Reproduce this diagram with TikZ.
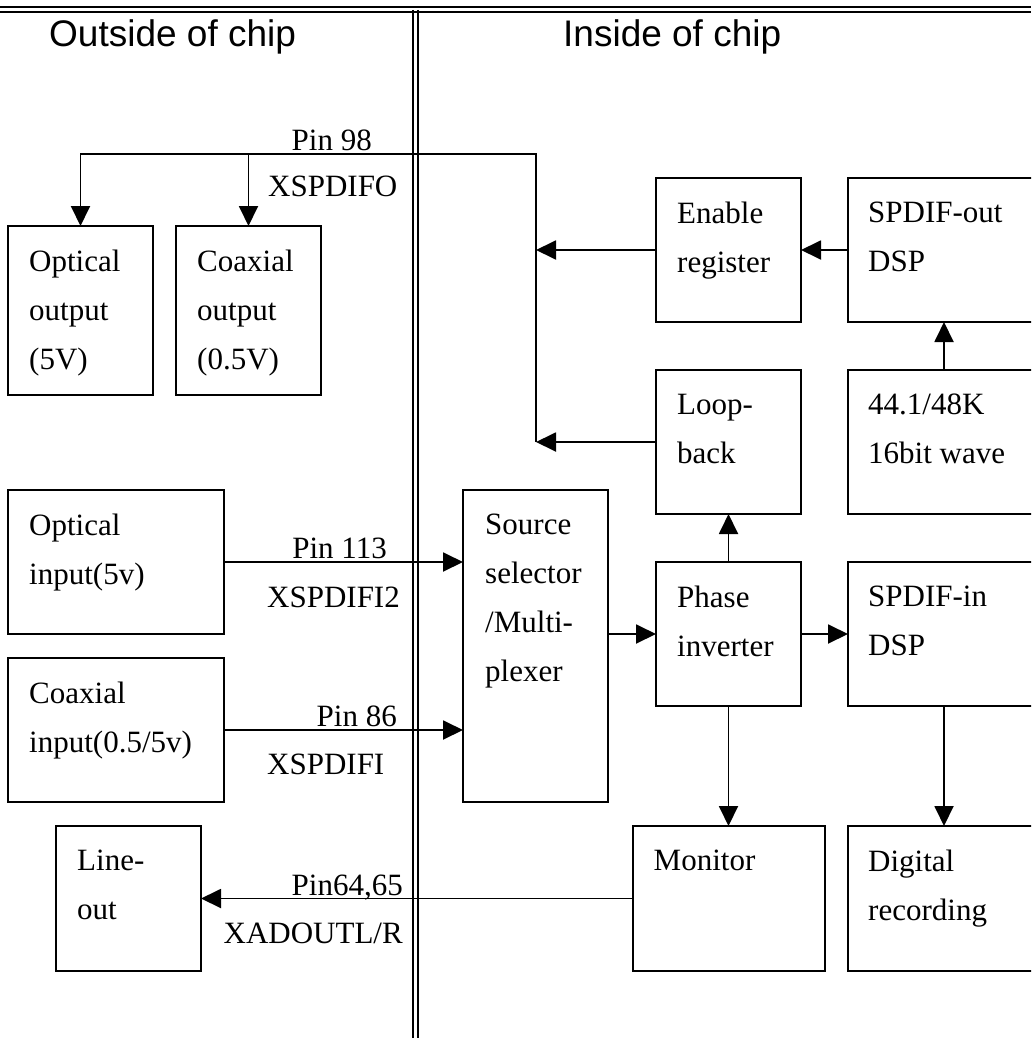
\documentclass[tikz,border=0pt]{standalone}
\usepackage{fontspec}
\setmainfont{Liberation Serif}
\newfontfamily\headfont{Liberation Sans}
\usetikzlibrary{arrows.meta,positioning}

\begin{document}
\begin{tikzpicture}[
    x=1pt, y=1pt,
    node distance=48pt and 47pt,
    >={Triangle[length=20pt,width=19pt]},
    blk/.style={
        rectangle, draw, line width=2pt,
        outer sep=0pt, inner sep=0pt,
        minimum width=145pt, minimum height=144pt
    },
    wide/.style={minimum width=192pt},
    txt/.style={anchor=north west, inner sep=0pt, align=left,
        font=\fontsize{31}{49}\selectfont},
    pin/.style={inner sep=0pt, font=\fontsize{31}{37}\selectfont},
    head/.style={anchor=base west, inner sep=0pt,
        font=\headfont\fontsize{37}{44}\selectfont},
    conn/.style={->, line width=1.9pt},
    rail/.style={line width=2.2pt}
]
    \useasboundingbox (0,0) rectangle (1031,-1038);
    \clip (0,0) rectangle (1031,-1038);

    % Chip boundary
    \draw[rail] (0,-7) -- (1031,-7);
    \draw[rail] (0,-12) -- (1031,-12);
    \draw[rail] (413,-10) -- (413,-1038);
    \draw[rail] (418,-10) -- (418,-1038);

    \node[head] (outside) at (49,-47) {Outside of chip};
    \node[head] (inside) at (563,-47) {Inside of chip};

    % Outside of chip
    \node[blk, minimum height=169pt, anchor=north west] (optout) at (8,-226) {};
    \node[txt] (optout-t) at ([shift={(21pt,-24pt)}]optout.north west) {Optical\\output\\(5V)};

    \node[blk, minimum height=169pt, right=23pt of optout] (coaxout) {};
    \node[txt] (coaxout-t) at ([shift={(21pt,-24pt)}]coaxout.north west) {Coaxial\\output\\(0.5V)};

    \node[blk, minimum width=216pt, anchor=north west] (optin) at (8,-490) {};
    \node[txt] (optin-t) at ([shift={(21pt,-24pt)}]optin.north west) {Optical\\input(5v)};

    \node[blk, minimum width=216pt, below=24pt of optin] (coaxin) {};
    \node[txt] (coaxin-t) at ([shift={(21pt,-24pt)}]coaxin.north west) {Coaxial\\input(0.5/5v)};

    \node[blk, minimum height=145pt, anchor=north west] (lineout) at (56,-826) {};
    \node[txt] (lineout-t) at ([shift={(21pt,-24pt)}]lineout.north west) {Line-\\out};

    % Inside of chip
    \node[blk, minimum height=312pt, anchor=north west] (srcsel) at (463,-490) {};
    \node[txt] (srcsel-t) at ([shift={(22pt,-24pt)}]srcsel.north west) {Source\\selector\\/Multi-\\plexer};

    \node[blk, anchor=north west] (enreg) at (656,-178) {};
    \node[txt] (enreg-t) at ([shift={(21pt,-24pt)}]enreg.north west) {Enable\\register};

    \node[blk, below=of enreg] (loopback) {};
    \node[txt] (loopback-t) at ([shift={(21pt,-24pt)}]loopback.north west) {Loop-\\back};

    \node[blk, below=of loopback] (phase) {};
    \node[txt] (phase-t) at ([shift={(21pt,-24pt)}]phase.north west) {Phase\\inverter};

    \node[blk, wide, right=of enreg] (spdifout) {};
    \node[txt] (spdifout-t) at ([shift={(20pt,-24pt)}]spdifout.north west) {SPDIF-out\\DSP};

    \node[blk, wide, below=of spdifout] (wave) {};
    \node[txt] (wave-t) at ([shift={(20pt,-24pt)}]wave.north west) {44.1/48K\\16bit wave};

    \node[blk, wide, below=of wave] (spdifin) {};
    \node[txt] (spdifin-t) at ([shift={(20pt,-24pt)}]spdifin.north west) {SPDIF-in\\DSP};

    \node[blk, wide, minimum height=145pt, below=120pt of phase] (monitor) {};
    \node[txt] (monitor-t) at ([shift={(21pt,-24pt)}]monitor.north west) {Monitor};

    \node[blk, wide, minimum height=145pt, below=120pt of spdifin] (digrec) {};
    \node[txt] (digrec-t) at ([shift={(20pt,-24pt)}]digrec.north west) {Digital\\recording};

    % Pin labels
    \node[pin, anchor=base east] (pin98) at (372,-150) {Pin 98};
    \node[pin, anchor=base west] (xo) at (268,-196) {XSPDIFO};
    \node[pin, anchor=base east] (pin113) at (387,-558) {Pin 113};
    \node[pin, anchor=base west] (xi2) at (267,-607) {XSPDIFI2};
    \node[pin, anchor=base east] (pin86) at (397,-726) {Pin 86};
    \node[pin, anchor=base west] (xi) at (267,-774) {XSPDIFI};
    \node[pin, anchor=base east] (pin64) at (403,-895) {Pin64,65};
    \node[pin, anchor=base east] (xad) at (403,-943) {XADOUTL/R};

    % Connections
    \coordinate (tap) at (536,-154);
    \draw[conn] (enreg.west) -- (enreg.west -| tap);
    \draw[conn] (loopback.west) -- (loopback.west -| tap);
    \draw[conn] (loopback.west -| tap) -- (tap) -| (optout.north);
    \draw[conn] (tap -| coaxout.north) -- (coaxout.north);
    \draw[conn] (spdifout.west) -- (enreg.east);
    \draw[conn] (wave.north) -- (spdifout.south);
    \draw[conn] (optin.east) -- (optin.east -| srcsel.west);
    \draw[conn] (coaxin.east) -- (coaxin.east -| srcsel.west);
    \draw[conn] (phase.west -| srcsel.east) -- (phase.west);
    \draw[conn] (phase.north) -- (loopback.south);
    \draw[conn] (phase.east) -- (spdifin.west);
    \draw[conn] (phase.south) -- (monitor.north);
    \draw[conn] (spdifin.south) -- (digrec.north);
    \draw[conn] (monitor.west) -- (lineout.east);

\end{tikzpicture}
\end{document}
